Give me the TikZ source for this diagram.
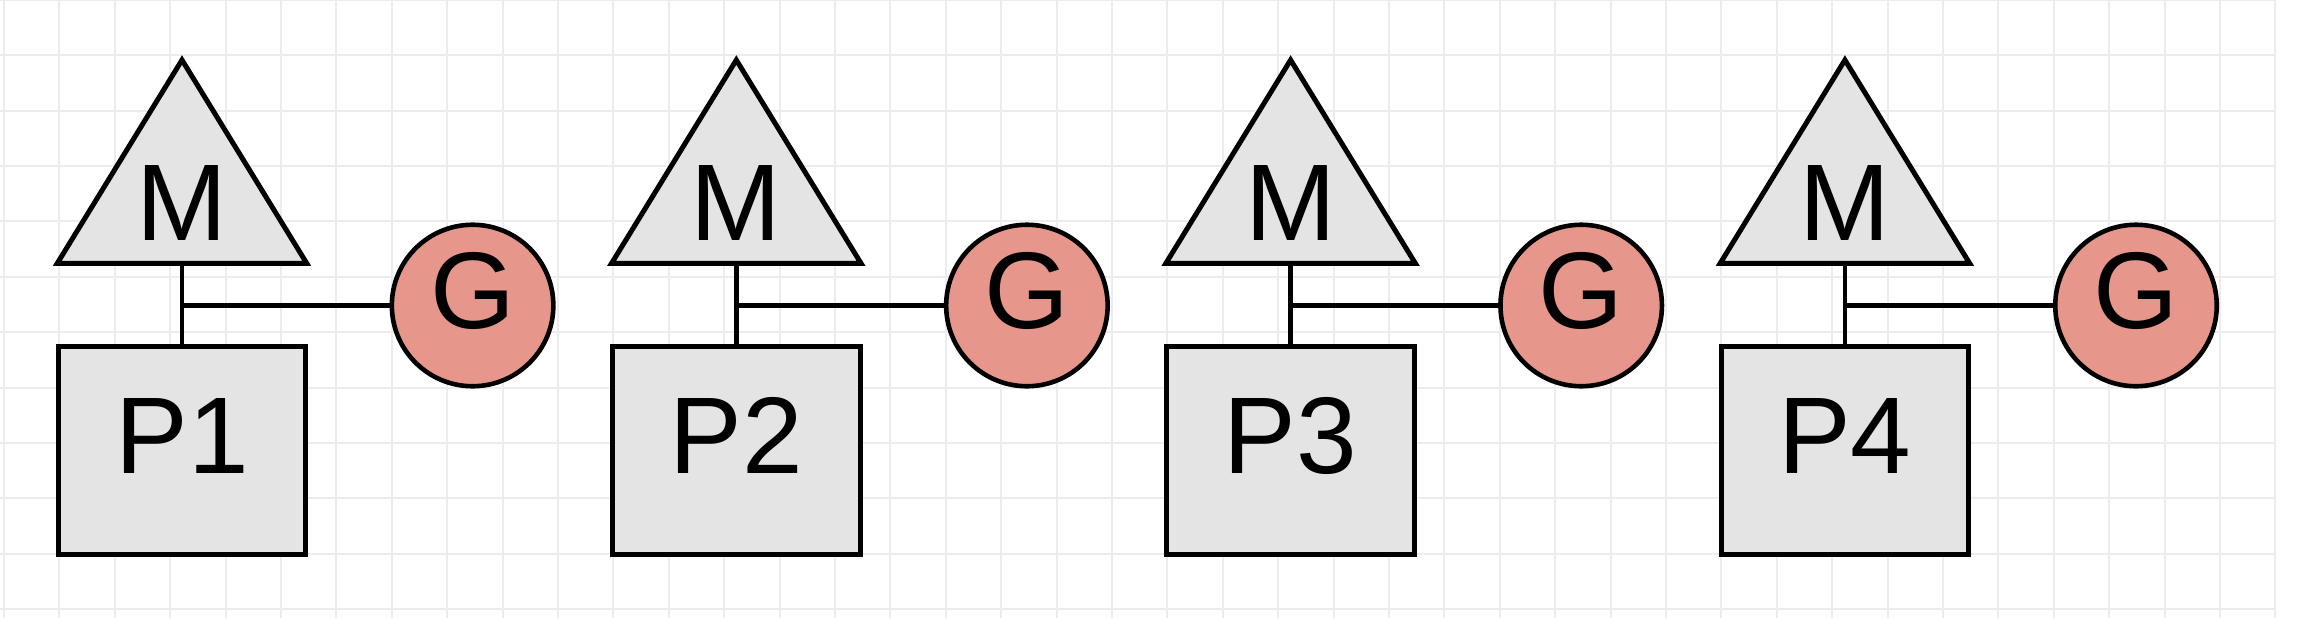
\documentclass[tikz,border=0pt]{standalone}
\usepackage{fontspec}
\setmainfont{Liberation Sans}

\definecolor{shapegray}{HTML}{E4E4E4}
\definecolor{gsalmon}{HTML}{E6968A}
\definecolor{gridgray}{HTML}{ECECEC}

\tikzset{
  lbl/.style={inner sep=0pt, text height=76pt, text depth=30pt,
    font=\fontsize{109}{120}\selectfont},
  pbox/.style={lbl, draw, fill=shapegray, line width=5pt,
    minimum width=247.5pt, minimum height=208pt},
  gball/.style={lbl, circle, draw, fill=gsalmon, line width=4.6pt,
    minimum size=161.5pt},
  mtri/.style={draw, fill=shapegray, line width=5pt, line join=miter},
  link/.style={line width=4.7pt},
  gridline/.style={gridgray, line width=2pt}
}

\begin{document}
\begin{tikzpicture}[x=1pt, y=-1pt]
  \useasboundingbox (0,0) rectangle (2298,618);
  % background grid
  \foreach \k in {0,...,41}
    \draw[gridline] ({3.9+55.4*\k},0) -- ({3.9+55.4*\k},618);
  \foreach \k in {0,...,11}
    \draw[gridline] (0,{-0.2+55.4*\k}) -- (2276,{-0.2+55.4*\k});

  % P1
  \draw[mtri] (182,60) -- (57.3,263.3) -- (306.7,263.3) -- cycle;
  \node[lbl] (m1) at (182,217.5) {M};
  \coordinate (mb1) at (182,263.3);
  \node[pbox] (p1) at (182,450.6) {P1};
  \node[gball] (g1) at (472.6,305.5) {G};
  \draw[link] (mb1) -- (p1.north);
  \draw[link] (mb1 |- g1.west) -- (g1.west);

  % P2
  \draw[mtri] (736.3,60) -- (611.6,263.3) -- (861,263.3) -- cycle;
  \node[lbl] (m2) at (736.3,217.5) {M};
  \coordinate (mb2) at (736.3,263.3);
  \node[pbox] (p2) at (736.3,450.6) {P2};
  \node[gball] (g2) at (1026.9,305.5) {G};
  \draw[link] (mb2) -- (p2.north);
  \draw[link] (mb2 |- g2.west) -- (g2.west);

  % P3
  \draw[mtri] (1290.6,60) -- (1165.9,263.3) -- (1415.3,263.3) -- cycle;
  \node[lbl] (m3) at (1290.6,217.5) {M};
  \coordinate (mb3) at (1290.6,263.3);
  \node[pbox] (p3) at (1290.6,450.6) {P3};
  \node[gball] (g3) at (1581.2,305.5) {G};
  \draw[link] (mb3) -- (p3.north);
  \draw[link] (mb3 |- g3.west) -- (g3.west);

  % P4
  \draw[mtri] (1844.9,60) -- (1720.2,263.3) -- (1969.6,263.3) -- cycle;
  \node[lbl] (m4) at (1844.9,217.5) {M};
  \coordinate (mb4) at (1844.9,263.3);
  \node[pbox] (p4) at (1844.9,450.6) {P4};
  \node[gball] (g4) at (2136,305.5) {G};
  \draw[link] (mb4) -- (p4.north);
  \draw[link] (mb4 |- g4.west) -- (g4.west);
\end{tikzpicture}
\end{document}
